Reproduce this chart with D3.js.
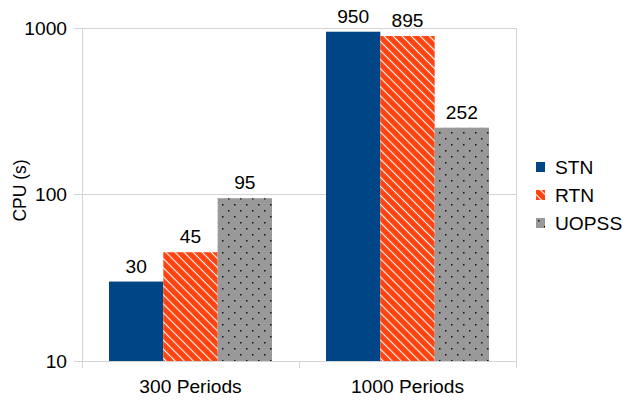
<!DOCTYPE html>
<html>
<head>
<meta charset="utf-8">
<script src="https://cdn.jsdelivr.net/npm/d3@7"></script>
<style>
  html, body { margin: 0; padding: 0; background: #fff; }
  svg { display: block; font-family: "Liberation Sans", Arial, sans-serif; }
</style>
</head>
<body>
<svg id="chart" width="623" height="400"></svg>
<script>
// Chart data
const categories = ["300 Periods", "1000 Periods"];
const seriesNames = ["STN", "RTN", "UOPSS"];
const stnValues = [30, 950];
const rtnValues = [45, 895];
const uopssValues = [95, 252];
const yTicks = [10, 100, 1000];

const seriesValues = [stnValues, rtnValues, uopssValues];

const svg = d3.select("#chart");
const margin = { left: 82, right: 107, top: 28, bottom: 39 };
const W = 623, H = 400;
const plotW = W - margin.left - margin.right;
const plotH = H - margin.top - margin.bottom;
const fontSize = 19.2;

// Fill patterns: solid blue, white diagonal hatch on orange, black dots on grey
const defs = svg.append("defs");
const hatch = defs.append("pattern")
  .attr("id", "hatch").attr("patternUnits", "userSpaceOnUse")
  .attr("width", 20).attr("height", 6.4)
  .attr("patternTransform", "rotate(45)");
hatch.append("rect").attr("width", 20).attr("height", 6.4).attr("fill", "#ff420e");
hatch.append("line").attr("x1", 0).attr("x2", 20).attr("y1", 3.2).attr("y2", 3.2)
  .attr("stroke", "#fff").attr("stroke-width", 1.1);

const dots = defs.append("pattern")
  .attr("id", "dots").attr("patternUnits", "userSpaceOnUse")
  .attr("width", 12).attr("height", 12);
dots.append("rect").attr("width", 12).attr("height", 12).attr("fill", "#999999");
dots.append("rect").attr("x", 2).attr("y", 2).attr("width", 1.5).attr("height", 1.5).attr("fill", "#111");
dots.append("rect").attr("x", 8).attr("y", 8).attr("width", 1.5).attr("height", 1.5).attr("fill", "#111");

const fills = ["#004586", "url(#hatch)", "url(#dots)"];

const g = svg.append("g").attr("transform", `translate(${margin.left},${margin.top})`);

const x0 = d3.scaleBand().domain(categories).range([0, plotW]).paddingInner(0).paddingOuter(0);
const x1 = d3.scaleBand().domain(seriesNames).range([27, x0.bandwidth() - 27]).padding(0);
const y = d3.scaleLog().domain([10, 1000]).range([plotH, 0]);

const gridColor = "#d4d4d4";

// Horizontal gridlines and left tick marks
g.append("g").selectAll("line").data(yTicks).join("line")
  .attr("x1", -8).attr("x2", plotW)
  .attr("y1", d => Math.round(y(d)) + 0.5).attr("y2", d => Math.round(y(d)) + 0.5)
  .attr("stroke", gridColor).attr("stroke-width", 1);

// Vertical axis line, right wall edge, category tick marks
const xEdges = [0, x0.bandwidth(), plotW];
g.append("g").selectAll("line").data(xEdges).join("line")
  .attr("x1", d => Math.round(d) + 0.5).attr("x2", d => Math.round(d) + 0.5)
  .attr("y1", (d, i) => i === 1 ? plotH : 0).attr("y2", plotH + 7)
  .attr("stroke", gridColor).attr("stroke-width", 1);

// Y tick labels
g.append("g").selectAll("text").data(yTicks).join("text")
  .attr("x", -15).attr("y", d => y(d)).attr("dy", "0.35em")
  .attr("text-anchor", "end").attr("font-size", fontSize).attr("fill", "#000")
  .text(d => d);

// Y axis title
svg.append("text")
  .attr("transform", `translate(26,${margin.top + y(100) - 4}) rotate(-90)`)
  .attr("text-anchor", "middle").attr("font-size", 17.5).attr("fill", "#000")
  .text("CPU (s)");

// Category labels
g.append("g").selectAll("text").data(categories).join("text")
  .attr("x", d => x0(d) + x0.bandwidth() / 2).attr("y", plotH + 32)
  .attr("text-anchor", "middle").attr("font-size", fontSize).attr("fill", "#000")
  .text(d => d);

// Bars and value labels
const groups = g.append("g").selectAll("g").data(categories).join("g")
  .attr("transform", d => `translate(${x0(d)},0)`);

const barData = (c, ci) => seriesNames.map((s, si) => ({ s, si, v: seriesValues[si][ci] }));

groups.selectAll("rect").data((c, ci) => barData(c, ci)).join("rect")
  .attr("x", d => x1(d.s)).attr("width", x1.bandwidth())
  .attr("y", d => y(d.v)).attr("height", d => plotH - y(d.v))
  .attr("fill", d => fills[d.si]);

groups.selectAll("text").data((c, ci) => barData(c, ci)).join("text")
  .attr("x", d => x1(d.s) + x1.bandwidth() / 2).attr("y", d => y(d.v) - 9)
  .attr("text-anchor", "middle").attr("font-size", fontSize).attr("fill", "#000")
  .text(d => d.v);

// Legend
const legend = svg.append("g").attr("transform", "translate(536,162)");
const items = legend.selectAll("g").data(seriesNames).join("g")
  .attr("transform", (d, i) => `translate(0,${i * 28})`);
items.append("rect").attr("width", 9).attr("height", 10).attr("fill", (d, i) => fills[i]);
items.append("text").attr("x", 19).attr("y", 5).attr("dy", "0.36em")
  .attr("font-size", fontSize).attr("fill", "#000").text(d => d);
</script>
</body>
</html>
